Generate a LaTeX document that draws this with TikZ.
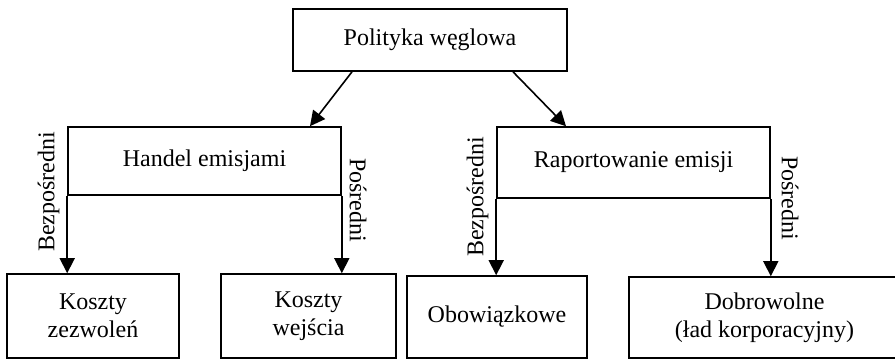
\documentclass[tikz,border=0pt]{standalone}
\usepackage{fontspec}
\setmainfont{Liberation Serif}
\usetikzlibrary{arrows.meta}
\begin{document}
\begin{tikzpicture}[x=0.5pt,y=-0.5pt,
  box/.style={draw, line width=0.8pt, inner sep=0pt, align=center, font=\fontsize{12}{13.8}\selectfont},
  arr/.style={line width=0.8pt, -{Triangle[length=7.5pt,width=7.5pt]}},
  lab/.style={inner sep=0pt, font=\fontsize{12}{13.8}\selectfont}]
\useasboundingbox (0,0) rectangle (895,359);
\node[box, minimum width=137pt, minimum height=31pt] (top) at (430,40) {Polityka węglowa};
\node[box, minimum width=136.5pt, minimum height=34pt] (handel) at (204.5,161) {Handel emisjami};
\node[box, minimum width=136.5pt, minimum height=35.5pt] (raport) at (633.5,162.5) {Raportowanie emisji};
\node[box, minimum width=86pt, minimum height=42pt] (k1) at (93,316) {Koszty\\zezwoleń};
\node[box, minimum width=87.5pt, minimum height=42pt] (k2) at (308.5,316) {Koszty\\wejścia};
\node[box, minimum width=90pt, minimum height=41pt] (obow) at (497,317) {Obowiązkowe};
\node[box, minimum width=135.5pt, minimum height=40.5pt] (dobro) at (764.5,317.5) {Dobrowolne\\(ład korporacyjny)};
\draw[arr] (top.south -| 352,0) -- (handel.north -| 310,0);
\draw[arr] (top.south -| 513,0) -- (raport.north -| 566,0);
\draw[arr] (handel.south west) -- (k1.north -| handel.south west);
\draw[arr] (handel.south east) -- (k2.north -| handel.south east);
\draw[arr] (raport.south west) -- (obow.north -| raport.south west);
\draw[arr] (raport.south east) -- (dobro.north -| raport.south east);
\node[lab, rotate=90] (l1) at (48.5,192) {Bezpośredni};
\node[lab, rotate=-90] (l2) at (358,200) {Pośredni};
\node[lab, rotate=90] (l3) at (477.5,197) {Bezpośredni};
\node[lab, rotate=-90] (l4) at (790,198) {Pośredni};
\end{tikzpicture}
\end{document}
